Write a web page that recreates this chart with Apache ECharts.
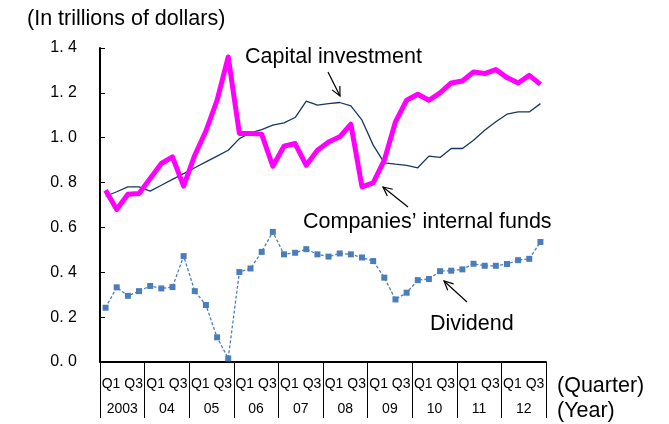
<!DOCTYPE html>
<html>
<head>
<meta charset="utf-8">
<script src="https://cdn.jsdelivr.net/npm/echarts@6/dist/echarts.min.js"></script>
<style>
  html, body { margin: 0; padding: 0; background: #fff; }
  #chart { width: 669px; height: 424px; }
</style>
</head>
<body>
<div id="chart"></div>
<script>
// 2003 Q1 .. 2012 Q4
const years = ["2003", "04", "05", "06", "07", "08", "09", "10", "11", "12"];
const quarters = [];
years.forEach((y) => { for (let q = 1; q <= 4; q++) quarters.push(y + " Q" + q); });

const capitalInvestment = [
  0.739, 0.759, 0.781, 0.781, 0.762, 0.788, 0.814, 0.840, 0.866, 0.892,
  0.918, 0.944, 0.996, 1.022, 1.036, 1.056, 1.066, 1.090, 1.163, 1.145,
  1.152, 1.157, 1.142, 1.078, 0.967, 0.888, 0.882, 0.877, 0.866, 0.918,
  0.912, 0.952, 0.952, 0.989, 1.033, 1.071, 1.105, 1.115, 1.115, 1.152,
];
const internalFunds = [
  0.766, 0.680, 0.748, 0.751, 0.818, 0.885, 0.915, 0.784, 0.922, 1.030,
  1.167, 1.360, 1.019, 1.019, 1.016, 0.873, 0.962, 0.974, 0.877, 0.944,
  0.981, 1.004, 1.060, 0.781, 0.799, 0.900, 1.071, 1.167, 1.194, 1.167,
  1.200, 1.244, 1.253, 1.293, 1.286, 1.304, 1.268, 1.244, 1.278, 1.238,
];
const dividend = [
  0.242, 0.333, 0.295, 0.316, 0.339, 0.328, 0.334, 0.472, 0.316, 0.254,
  0.110, 0.016, 0.401, 0.417, 0.491, 0.580, 0.480, 0.487, 0.503, 0.480,
  0.470, 0.484, 0.480, 0.466, 0.450, 0.376, 0.279, 0.309, 0.365, 0.370,
  0.405, 0.407, 0.413, 0.438, 0.429, 0.429, 0.437, 0.454, 0.460, 0.535,
];

const FONT = "'Liberation Sans', Arial, sans-serif";
const chart = echarts.init(document.getElementById("chart"));

function arrow(x1, y1, x2, y2) {
  // open arrow head at (x2, y2)
  const a = Math.atan2(y2 - y1, x2 - x1);
  const h = 10, s = 0.45;
  const p1 = [x2 - h * Math.cos(a - s), y2 - h * Math.sin(a - s)];
  const p2 = [x2 - h * Math.cos(a + s), y2 - h * Math.sin(a + s)];
  const st = { stroke: "#000", lineWidth: 1.2 };
  return [
    { type: "line", shape: { x1, y1, x2, y2 }, style: st },
    { type: "polyline", shape: { points: [p1, [x2, y2], p2] }, style: { ...st, fill: null } },
  ];
}

function txt(text, left, top, size) {
  return { type: "text", left, top, style: { text, font: size + "px " + FONT, fill: "#000" } };
}

chart.setOption({
  animation: false,
  grid: { left: 100, right: 123, top: 48, bottom: 62 },
  xAxis: [
    { type: "category", data: quarters, show: false },
    {
      type: "category",
      data: years,
      position: "bottom",
      axisLine: { lineStyle: { color: "#000", width: 2 } },
      axisTick: { show: true, length: 56, lineStyle: { color: "#000", width: 1 } },
      axisLabel: {
        interval: 0,
        margin: 10,
        color: "#000",
        fontFamily: FONT,
        fontSize: 14,
        lineHeight: 25,
        formatter: (v) => "Q1 Q3\n" + v,
      },
    },
  ],
  yAxis: {
    type: "value",
    min: 0,
    max: 1.4,
    interval: 0.2,
    axisLine: { show: true, lineStyle: { color: "#000", width: 2 } },
    axisTick: { show: true, inside: true, length: 5, lineStyle: { color: "#000" } },
    splitLine: { show: false },
    axisLabel: {
      margin: 23,
      color: "#000",
      fontFamily: FONT,
      fontSize: 16,
      formatter: (v) => v.toFixed(1).replace(".", ". "),
    },
  },
  series: [
    {
      name: "Capital investment",
      type: "line",
      xAxisIndex: 0,
      data: capitalInvestment,
      showSymbol: false,
      lineStyle: { color: "#17375e", width: 1.3 },
    },
    {
      name: "Companies’ internal funds",
      type: "line",
      xAxisIndex: 0,
      data: internalFunds,
      showSymbol: false,
      lineStyle: { color: "#ff00ff", width: 5, join: "round" },
    },
    {
      name: "Dividend",
      type: "line",
      xAxisIndex: 0,
      data: dividend,
      symbol: "rect",
      symbolSize: 6,
      itemStyle: { color: "#4a7ebb" },
      lineStyle: { color: "#4a7ebb", width: 1.3, type: [3, 2] },
    },
  ],
  graphic: [
    txt("(In trillions of dollars)", 27, 8, 21.5),
    txt("(Quarter)", 557, 375, 21.5),
    txt("(Year)", 557, 400, 21.5),
    txt("Capital investment", 245, 46, 21.5),
    txt("Companies’ internal funds", 303, 211, 21.5),
    txt("Dividend", 430, 313, 21.5),
    ...arrow(328, 72, 340, 96),
    ...arrow(408, 207, 383, 187),
    ...arrow(467, 302, 444, 281),
  ],
});
</script>
</body>
</html>
